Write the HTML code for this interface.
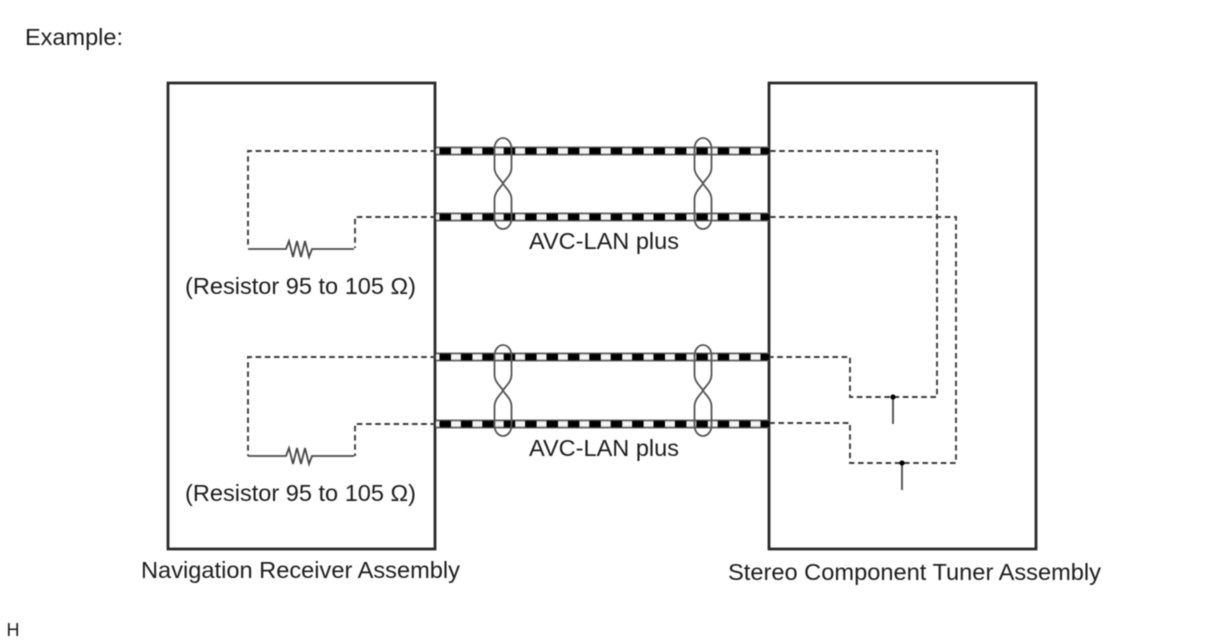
<!DOCTYPE html>
<html>
<head>
<meta charset="utf-8">
<style>
html,body{margin:0;padding:0;background:#fff;}
svg{display:block;filter:blur(0.45px);}
text{font-family:"Liberation Sans",sans-serif;font-size:23px;fill:#1c1c1c;}
.box{fill:none;stroke:#2a2a2a;stroke-width:2.8;}
.dash{fill:none;stroke:#3c3c3c;stroke-width:1.9;stroke-dasharray:5.6 3.6;}
.solid{fill:none;stroke:#484848;stroke-width:1.8;}
.edge{stroke:#666;stroke-width:1.9;}
.mid{stroke:#f4f4f4;stroke-width:5;}
.blk{stroke:#000;stroke-width:6.5;stroke-dasharray:11.5 9.9;}
.tw{fill:none;stroke:#555;stroke-width:1.8;}
</style>
</head>
<body>
<svg xmlns="http://www.w3.org/2000/svg" width="1208" height="644" viewBox="0 0 1208 644">
<defs>
<g id="cable">
<line class="mid" x1="436" y1="0" x2="769" y2="0"/>
<line class="edge" x1="436" y1="-3.6" x2="769" y2="-3.6"/>
<line class="edge" x1="436" y1="3.6" x2="769" y2="3.6"/>
<line class="blk" x1="439.5" y1="0" x2="769" y2="0"/>
</g>
<g id="twist">
<path class="tw" d="M0 0 C-2 -4 -8.5 -8 -8.5 -16 V-35 C-8.5 -41 -4.5 -45.5 0 -45.5 C4.5 -45.5 8.5 -41 8.5 -35 V-16 C8.5 -8 2 -4 0 0 C-2 4 -8.5 8 -8.5 16 V35 C-8.5 41 -4.5 45.5 0 45.5 C4.5 45.5 8.5 41 8.5 35 V16 C8.5 8 2 4 0 0 Z"/>
</g>
<path id="res" class="solid" d="M0 0 H38 L41 -8 L45 8 L49 -8 L53 8 L57 -8 L61 8 L64 0 H106"/>
</defs>

<rect class="box" x="168" y="83" width="267" height="466"/>
<rect class="box" x="769" y="83" width="267" height="466"/>

<!-- Left dashed wiring -->
<path class="dash" d="M436 151 H248 V248"/>
<path class="dash" d="M436 217 H355 V248"/>
<use href="#res" x="248" y="249"/>
<path class="dash" d="M436 357 H248 V456"/>
<path class="dash" d="M436 424 H355 V456"/>
<use href="#res" x="248" y="456"/>

<!-- Right dashed wiring -->
<path class="dash" d="M770 151 H937 V397 H850 V357 H770"/>
<path class="dash" d="M770 217 H956 V463 H850 V423 H770"/>
<line class="solid" x1="893" y1="397" x2="893" y2="424"/>
<circle cx="893" cy="397" r="2.6" fill="#000"/>
<line class="solid" x1="902" y1="463" x2="902" y2="490"/>
<circle cx="902" cy="463" r="2.6" fill="#000"/>

<!-- Cables -->
<use href="#cable" y="151"/>
<use href="#cable" y="217"/>
<use href="#cable" y="357"/>
<use href="#cable" y="424"/>

<!-- Twists -->
<use href="#twist" x="503" y="183.5"/>
<use href="#twist" x="703" y="183.5"/>
<use href="#twist" x="503" y="390.5"/>
<use href="#twist" x="703" y="390.5"/>

<!-- Labels -->
<text x="25" y="45" textLength="98" lengthAdjust="spacingAndGlyphs">Example:</text>
<text x="529" y="249" textLength="150" lengthAdjust="spacingAndGlyphs">AVC-LAN plus</text>
<text x="529" y="456" textLength="150" lengthAdjust="spacingAndGlyphs">AVC-LAN plus</text>
<text x="185" y="294" textLength="231" lengthAdjust="spacingAndGlyphs">(Resistor 95 to 105 Ω)</text>
<text x="185" y="501" textLength="231" lengthAdjust="spacingAndGlyphs">(Resistor 95 to 105 Ω)</text>
<text x="141" y="578" textLength="319" lengthAdjust="spacingAndGlyphs">Navigation Receiver Assembly</text>
<text x="728" y="580" textLength="373" lengthAdjust="spacingAndGlyphs">Stereo Component Tuner Assembly</text>
<text x="6.5" y="636" style="font-size:18px">H</text>
</svg>
</body>
</html>
